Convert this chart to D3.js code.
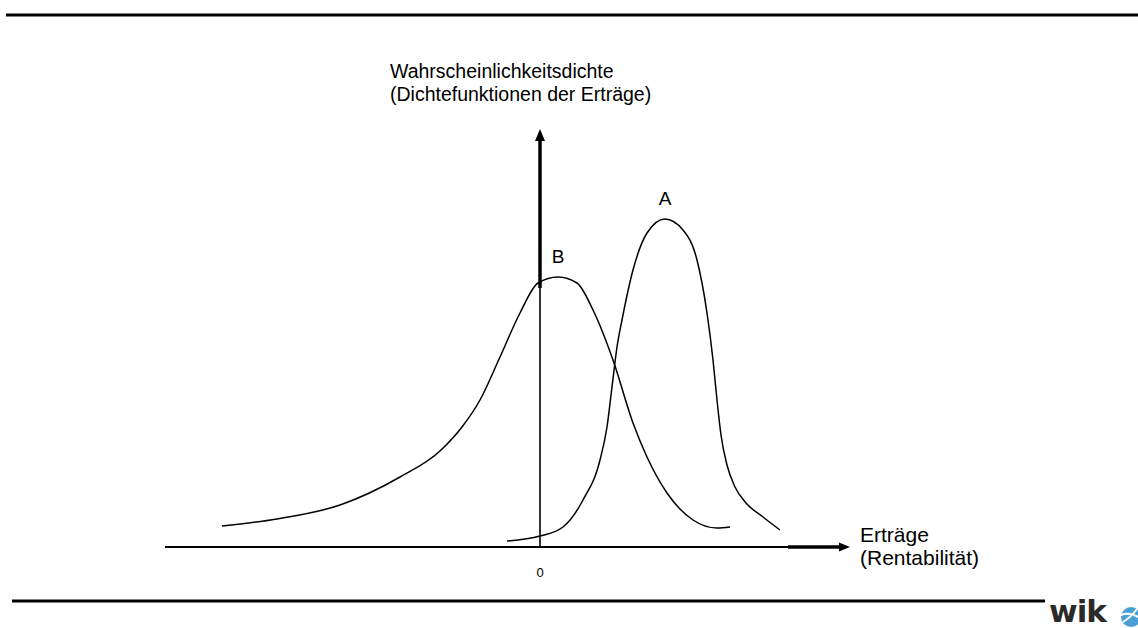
<!DOCTYPE html>
<html>
<head>
<meta charset="utf-8">
<script src="https://cdn.jsdelivr.net/npm/d3@7"></script>
<style>
  body { margin: 0; background: #fff; }
  svg { display: block; font-family: "Liberation Sans", Arial, sans-serif; }
</style>
</head>
<body>
<svg id="chart" width="1138" height="628"></svg>
<script>
// density curve B (wide, left skewed), x = return, y = density
const curveB = [
  [-15.9, 0.0525], [-13.15, 0.07], [-10, 0.105], [-7, 0.175], [-5, 0.24],
  [-3.9, 0.3], [-3, 0.3675], [-2, 0.475], [-1, 0.585], [-0.1, 0.66],
  [0.9, 0.675], [1.85, 0.66], [2.65, 0.5925], [3.65, 0.4675], [4.65, 0.31],
  [5.35, 0.225], [6.35, 0.135], [7.65, 0.0675], [8.85, 0.0475], [9.5, 0.05]
]
// density curve A (narrow, higher)
const curveA = [
  [-1.65, 0.015], [0, 0.0275], [1.15, 0.05], [2.15, 0.1175], [3, 0.2175],
  [3.35, 0.3], [3.6, 0.4], [3.85, 0.5], [4.1, 0.5675], [4.65, 0.6925],
  [5.35, 0.785], [6.25, 0.82], [7.15, 0.7925], [7.85, 0.7175], [8.35, 0.585],
  [8.65, 0.4675], [8.85, 0.3675], [9.05, 0.28], [9.35, 0.205], [9.75, 0.15],
  [10.3, 0.11], [11.15, 0.075], [12, 0.0425]
]
const curveLabels = [
  {name: 'A', x: 6.25, y: 0.82},
  {name: 'B', x: 0.9, y: 0.675}
]
const yTitle = ['Wahrscheinlichkeitsdichte', '(Dichtefunktionen der Erträge)']
const xTitle = ['Erträge', '(Rentabilität)']
const originLabel = '0'

const svg = d3.select('#chart')

const x = d3.scaleLinear().domain([-18.75, 15.5]).range([165, 850])
const y = d3.scaleLinear().domain([0, 1]).range([547, 147])

// frame lines top and bottom
svg.append('line').attr('x1', 6).attr('x2', 1138).attr('y1', 15).attr('y2', 15)
  .attr('stroke', '#000').attr('stroke-width', 3)
svg.append('line').attr('x1', 12).attr('x2', 1045).attr('y1', 601).attr('y2', 601)
  .attr('stroke', '#000').attr('stroke-width', 3)

// x axis
svg.append('line').attr('x1', x(-18.75)).attr('x2', x(12.4)).attr('y1', y(0)).attr('y2', y(0))
  .attr('stroke', '#000').attr('stroke-width', 2)
svg.append('line').attr('x1', x(12.4)).attr('x2', x(15.1)).attr('y1', y(0)).attr('y2', y(0))
  .attr('stroke', '#000').attr('stroke-width', 3.5)
svg.append('path')
  .attr('d', `M${x(15.5)},${y(0)} L${x(15.5) - 11},${y(0) - 4.5} L${x(15.5) - 11},${y(0) + 4.5} Z`)
  .attr('fill', '#000')

// y axis
svg.append('line').attr('x1', x(0)).attr('x2', x(0)).attr('y1', y(0)).attr('y2', y(0.6475))
  .attr('stroke', '#000').attr('stroke-width', 1.6)
svg.append('line').attr('x1', x(0)).attr('x2', x(0)).attr('y1', y(0.6475)).attr('y2', y(1.02))
  .attr('stroke', '#000').attr('stroke-width', 3.5)
svg.append('path')
  .attr('d', `M${x(0)},${y(1.045)} L${x(0) - 5},${y(1.045) + 12} L${x(0) + 5},${y(1.045) + 12} Z`)
  .attr('fill', '#000')

const line = d3.line()
  .x(d => x(d[0]))
  .y(d => y(d[1]))
  .curve(d3.curveMonotoneX)

svg.append('path').datum(curveB).attr('d', line)
  .attr('fill', 'none').attr('stroke', '#000').attr('stroke-width', 1.5)
svg.append('path').datum(curveA).attr('d', line)
  .attr('fill', 'none').attr('stroke', '#000').attr('stroke-width', 1.5)

// curve names
svg.selectAll('text.cname').data(curveLabels).join('text')
  .attr('class', 'cname')
  .attr('x', d => x(d.x))
  .attr('y', d => y(d.y) - 14)
  .attr('text-anchor', 'middle')
  .attr('font-size', 19)
  .text(d => d.name)

// axis titles
svg.append('text').attr('font-size', 19.5)
  .selectAll('tspan').data(yTitle).join('tspan')
  .attr('x', 390).attr('y', (d, i) => 78 + i * 23).text(d => d)

svg.append('text').attr('font-size', 21)
  .selectAll('tspan').data(xTitle).join('tspan')
  .attr('x', 860).attr('y', (d, i) => 542 + i * 23).text(d => d)

svg.append('text').attr('x', x(0)).attr('y', y(0) + 30)
  .attr('text-anchor', 'middle').attr('font-size', 13).attr('fill', '#000').text(originLabel)

// logo
svg.append('text').attr('x', 1049).attr('y', 622)
  .attr('font-size', 31).attr('font-weight', 'bold').attr('fill', '#2a2a2a')
  .attr('font-family', '"DejaVu Sans", sans-serif')
  .attr('letter-spacing', -1).text('wik')
const logo = svg.append('g').attr('transform', 'translate(1131,617)')
logo.append('circle').attr('r', 10).attr('fill', '#4a9fd8')
logo.append('path').attr('d', 'M-10,-2 Q0,-6 10,2').attr('stroke', '#fff').attr('stroke-width', 2).attr('fill', 'none')
logo.append('path').attr('d', 'M-8,5 Q0,0 6,-8').attr('stroke', '#fff').attr('stroke-width', 2).attr('fill', 'none')
</script>
</body>
</html>
